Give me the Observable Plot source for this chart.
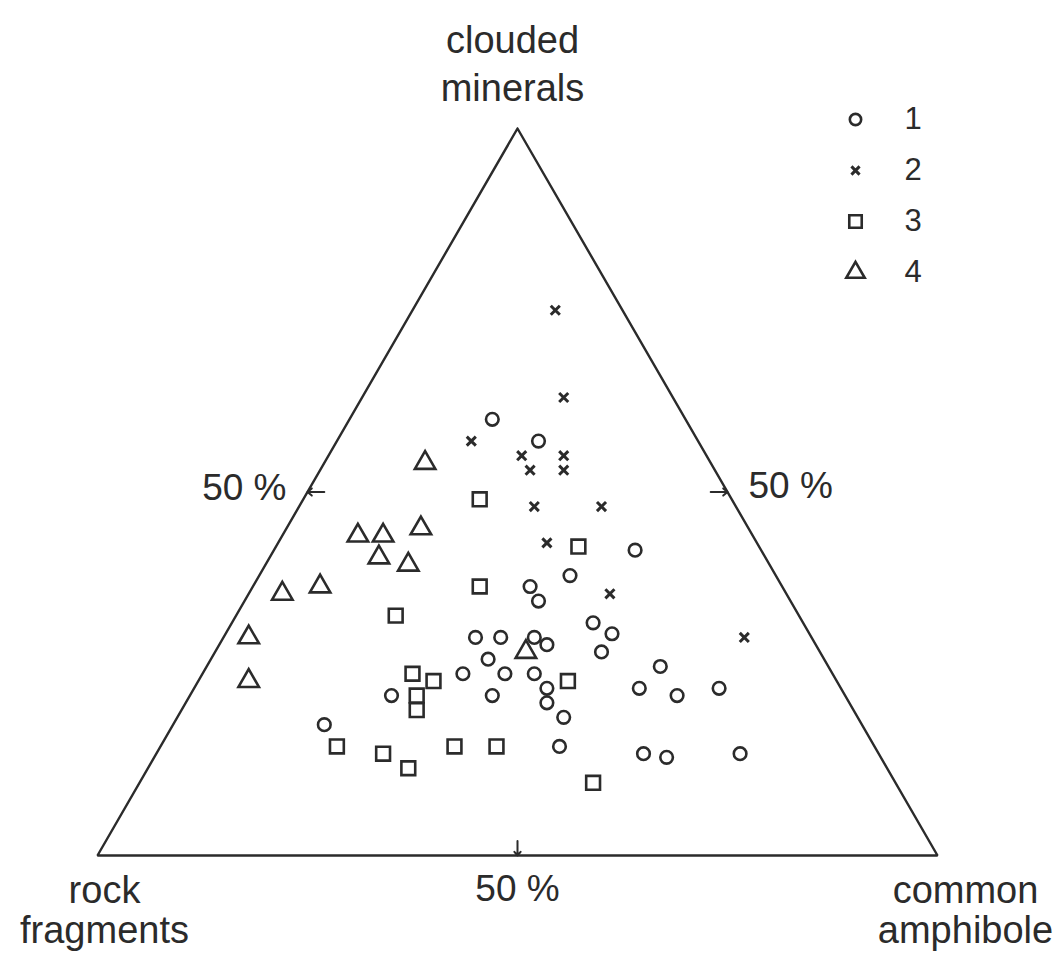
<!DOCTYPE html>
<html>
<head>
<meta charset="utf-8">
<script src="https://cdn.jsdelivr.net/npm/d3@7"></script>
<script src="https://cdn.jsdelivr.net/npm/@observablehq/plot@0.6"></script>
<style>
  html, body { margin: 0; padding: 0; background: #fff; }
  #chart { position: relative; width: 1060px; height: 955px; overflow: hidden; }
  #legend { position: absolute; left: 820px; top: 90px; }
</style>
</head>
<body>
<div id="chart"><div id="legend"></div></div>
<script>
// ---- Data (percent compositions) ----
const seriesNames = ["1", "2", "3", "4"];

// series 1 (circles)
const s1Clouded   = [60, 57, 42, 38.5, 37, 35, 32, 30.5, 28, 30, 30, 30, 29, 27, 25, 25, 25, 23, 21, 19, 22, 22, 18, 15, 26, 23, 22, 23, 14, 13.5, 14];
const s1Amphibole = [17, 24, 43, 37, 33, 35, 43, 46, 46, 30, 33, 37, 39, 33, 36, 31, 39.5, 42, 43, 46, 36, 24, 18, 47.5, 54, 53, 58, 62.5, 58, 61, 69.5];

// series 2 (crosses)
const s2Clouded   = [75, 63, 57, 55, 55, 53, 53, 48, 48, 43, 36, 30];
const s2Amphibole = [17, 24, 16, 23, 28, 25, 29, 28, 36, 32, 43, 62];

// series 3 (squares)
const s3Clouded   = [49, 42.5, 37, 33, 25, 24, 22, 20, 15, 14, 12, 15, 15, 24, 10];
const s3Amphibole = [21, 36, 27, 19, 25, 28, 27, 28, 21, 27, 31, 35, 40, 44, 54];

// series 4 (triangles)
const s4Clouded   = [54, 45, 44, 44, 41, 40, 37, 36, 30, 24, 28];
const s4Amphibole = [12, 16, 9, 12, 13, 17, 8, 4, 3, 6, 37];

// corners of the ternary diagram
const cornerLabels    = ["clouded\nminerals", "rock\nfragments", "common\namphibole"];
const cornerClouded   = [100, 0, 0];
const cornerAmphibole = [0, 0, 100];

// marked 50 % positions on each side
const sideTickValue = 50;
const sideTickLabel = "50 %";

// ---- Styles ----
const ink = "#2b2b2b";
const fontFamily = "'Liberation Sans', Arial, Helvetica, sans-serif";
const symbolStyle = {
  "1": {symbol: "circle",   r: 6.3, strokeWidth: 2.6},
  "2": {symbol: "times",    r: 4.2, strokeWidth: 3},
  "3": {symbol: "square",   r: 7.8, strokeWidth: 2.6},
  "4": {symbol: "triangle", r: 7.6, strokeWidth: 2.6}
};

// ---- Build tables ----
function table(clouded, amphibole, series) {
  return clouded.map((c, i) => ({series, clouded: c, amphibole: amphibole[i], rock: 100 - c - amphibole[i]}));
}
const points = {
  "1": table(s1Clouded, s1Amphibole, "1"),
  "2": table(s2Clouded, s2Amphibole, "2"),
  "3": table(s3Clouded, s3Amphibole, "3"),
  "4": table(s4Clouded, s4Amphibole, "4")
};
const corners = cornerLabels.map((label, i) => ({label, clouded: cornerClouded[i], amphibole: cornerAmphibole[i]}));
const outline = [...corners, corners[0]];

// ternary -> cartesian (rock fragments at origin, amphibole to the right, clouded at apex)
const H = Math.sqrt(3) / 2;
const tx = d => (d.amphibole + d.clouded / 2) / 100;
const ty = d => (d.clouded / 100) * H;

// 50% ticks: from slightly inside the triangle to the side
const v = sideTickValue, e = 2;
const ticks = [
  {side: "left",   x1: tx({clouded: v, amphibole: e}),         y1: ty({clouded: v}), x2: tx({clouded: v, amphibole: 0}),     y2: ty({clouded: v})},
  {side: "right",  x1: tx({clouded: v, amphibole: 100 - v - e}), y1: ty({clouded: v}), x2: tx({clouded: v, amphibole: 100 - v}), y2: ty({clouded: v})},
  {side: "bottom", x1: tx({clouded: e, amphibole: v - e / 2}), y1: ty({clouded: e}), x2: tx({clouded: 0, amphibole: v}), y2: ty({clouded: 0})}
];
const tickLabels = [
  {side: "left",   clouded: v, amphibole: 0},
  {side: "right",  clouded: v, amphibole: 100 - v},
  {side: "bottom", clouded: 0, amphibole: v}
];

const dotMarks = seriesNames.map(s => Plot.dot(points[s], {
  x: tx, y: ty,
  symbol: symbolStyle[s].symbol,
  r: symbolStyle[s].r,
  stroke: ink,
  strokeWidth: symbolStyle[s].strokeWidth,
  fill: "none"
}));

const main = Plot.plot({
  width: 1060,
  height: 955,
  marginLeft: 97,
  marginRight: 123,
  marginTop: 128,
  marginBottom: 100,
  x: {domain: [0, 1], axis: null},
  y: {domain: [0, H], axis: null},
  style: {fontFamily, background: "white", color: ink, overflow: "visible"},
  marks: [
    Plot.line(outline, {x: tx, y: ty, stroke: ink, strokeWidth: 2.4, strokeLinejoin: "miter"}),
    Plot.arrow(ticks, {x1: "x1", y1: "y1", x2: "x2", y2: "y2", stroke: ink, strokeWidth: 2, headLength: 9, headAngle: 80}),
    ...dotMarks,
    // corner labels
    Plot.text(corners.filter(d => d.clouded === 100), {x: tx, y: ty, text: "label", fontSize: 38, fill: ink, lineAnchor: "bottom", lineHeight: 1.24, dx: -5, dy: -28}),
    Plot.text(corners.filter(d => d.clouded === 0 && d.amphibole === 0), {x: tx, y: ty, text: "label", fontSize: 38, fill: ink, lineAnchor: "bottom", lineHeight: 1.05, dx: 7, dy: 87}),
    Plot.text(corners.filter(d => d.amphibole === 100), {x: tx, y: ty, text: "label", fontSize: 38, fill: ink, lineAnchor: "bottom", lineHeight: 1.05, dx: 28, dy: 87}),
    // 50 % labels
    Plot.text(tickLabels.filter(d => d.side === "left"), {x: tx, y: ty, text: () => sideTickLabel, fontSize: 37, fill: ink, textAnchor: "end", lineAnchor: "bottom", dx: -21, dy: 8}),
    Plot.text(tickLabels.filter(d => d.side === "right"), {x: tx, y: ty, text: () => sideTickLabel, fontSize: 37, fill: ink, textAnchor: "start", lineAnchor: "bottom", dx: 21, dy: 6}),
    Plot.text(tickLabels.filter(d => d.side === "bottom"), {x: tx, y: ty, text: () => sideTickLabel, fontSize: 37, fill: ink, textAnchor: "middle", lineAnchor: "bottom", dx: 0, dy: 45})
  ]
});
document.getElementById("chart").prepend(main);

// ---- Legend (vertical) ----
const legend = Plot.plot({
  width: 120,
  height: 220,
  margin: 0,
  x: {domain: [0, 1], range: [35, 84], axis: null},
  y: {type: "point", domain: seriesNames, range: [28, 183], padding: 0, axis: null},
  style: {fontFamily, background: "transparent", color: ink, overflow: "visible"},
  marks: [
    ...seriesNames.map(s => Plot.dot([s], {
      x: () => 0, y: d => d,
      symbol: symbolStyle[s].symbol,
      r: symbolStyle[s].r * 0.9,
      stroke: ink,
      strokeWidth: symbolStyle[s].strokeWidth,
      fill: "none"
    })),
    Plot.text(seriesNames, {x: () => 1, y: d => d, text: d => d, textAnchor: "start", fontSize: 31, fill: ink})
  ]
});
document.getElementById("legend").append(legend);
</script>
</body>
</html>
